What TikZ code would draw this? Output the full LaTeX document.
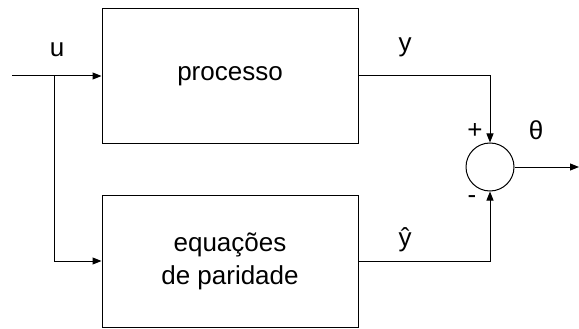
\documentclass[tikz,border=0pt]{standalone}
\usepackage{fontspec}
\setmainfont{Liberation Sans}
\usetikzlibrary{arrows.meta}

\tikzset{
  bloco/.style={draw, line width=1pt, minimum width=256pt, minimum height=134pt, align=center},
  soma/.style={draw, circle, line width=1pt, minimum size=48pt, inner sep=0pt},
  sinal/.style={line width=1pt, -{Triangle[length=9pt,width=7pt]}},
  rotulo/.style={inner sep=0pt}
}

\begin{document}
\begin{tikzpicture}[x=1pt,y=-1pt,font=\fontsize{26}{33}\selectfont]
    \useasboundingbox (0,0) rectangle (579,329);
    % blocos
    \node[bloco] (proc) at (230,76) {processo};
    \node[bloco, minimum height=132pt] (pari) at (230,261) {equações\\de paridade};
    \node[soma] (sum) at (490,167) {};
    \coordinate (ent) at (12,76);
    \coordinate (ramo) at (54,76);
    \coordinate (sai) at (579,167);
    % ligacoes
    \draw[sinal] (ent) -- (proc.west);
    \draw[sinal] (ramo) |- (pari.west);
    \draw[sinal] (proc.east) -| (sum.north);
    \draw[sinal] (pari.east) -| (sum.south);
    \draw[sinal] (sum.east) -- (sai);
    % rotulos
    \node[rotulo] (lu) at (57,50) {u};
    \node[rotulo] (ly) at (405,47) {y};
    \node[rotulo] (lyh) at (405,240) {ŷ};
    \node[rotulo] (lmais) at (475,131) {+};
    \node[rotulo] (lmenos) at (472,200) {-};
    \node[rotulo] (lth) at (536,130) {θ};
\end{tikzpicture}
\end{document}
